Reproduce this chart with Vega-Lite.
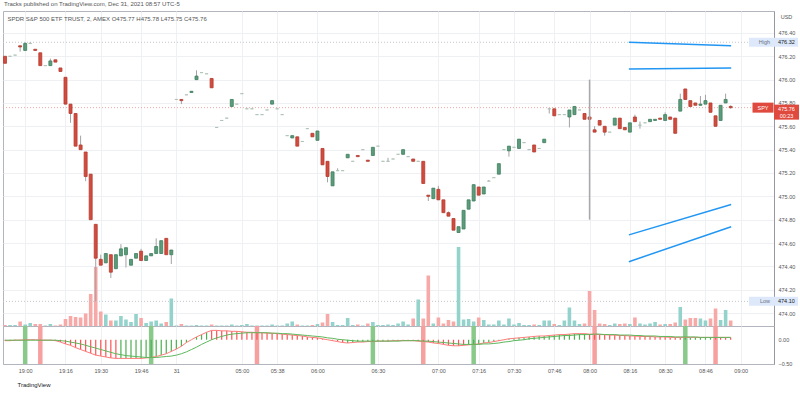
{
"$schema":"https://vega.github.io/schema/vega-lite/v6.json",
"background":"#ffffff",
"padding":{"left":2,"right":0,"top":0,"bottom":0},
"spacing":0,
"bounds":"flush",
"title":{"text":"Tracks published on TradingView.com, Dec 31, 2021 08:57 UTC-5","anchor":"start","fontSize":6,"fontWeight":"normal","color":"#555555","font":"Liberation Sans","offset":4,"dx":2},
"config":{
 "view":{"stroke":"#b2b5be"},
 "axis":{"labelFont":"Liberation Sans","labelFontSize":5.5,"labelColor":"#555555","gridColor":"#eef0f4","domainColor":"#9598a1","ticks":false,"titleFont":"Liberation Sans"},
 "text":{"font":"Liberation Sans"}
},
"datasets":{
"bars":[
{"i":0,"o":476.20,"h":476.20,"l":476.14,"c":476.14,"v":2,"m":-0.02,"s":-0.01,"trend":"dn"},
{"i":1,"o":476.20,"h":476.20,"l":476.20,"c":476.20,"v":2,"m":-0.02,"s":-0.01,"trend":"dn"},
{"i":2,"o":476.21,"h":476.21,"l":476.21,"c":476.21,"v":2,"m":-0.01,"s":-0.01,"trend":"dn"},
{"i":3,"o":476.29,"h":476.29,"l":476.24,"c":476.28,"v":9,"m":-0.01,"s":-0.01,"trend":"dn"},
{"i":4,"o":476.25,"h":476.32,"l":476.25,"c":476.31,"v":3,"m":0.0,"s":-0.01,"trend":"up"},
{"i":5,"o":476.31,"h":476.32,"l":476.31,"c":476.31,"v":6,"m":0.0,"s":-0.01,"trend":"up"},
{"i":6,"o":476.26,"h":476.26,"l":476.25,"c":476.25,"v":4,"m":0.0,"s":-0.01,"trend":"up"},
{"i":7,"o":476.23,"h":476.23,"l":476.12,"c":476.12,"v":4,"m":-0.01,"s":-0.01,"trend":"dn"},
{"i":8,"o":476.12,"h":476.12,"l":476.12,"c":476.12,"v":1,"m":-0.01,"s":-0.01,"trend":"dn"},
{"i":9,"o":476.12,"h":476.18,"l":476.12,"c":476.16,"v":4,"m":-0.01,"s":-0.01,"trend":"dn"},
{"i":10,"o":476.17,"h":476.17,"l":476.15,"c":476.15,"v":1,"m":-0.02,"s":-0.01,"trend":"dn"},
{"i":11,"o":476.10,"h":476.10,"l":476.07,"c":476.07,"v":3,"m":-0.05,"s":-0.02,"trend":"dn"},
{"i":12,"o":476.02,"h":476.02,"l":475.79,"c":475.79,"v":14,"m":-0.09,"s":-0.03,"trend":"dn"},
{"i":13,"o":475.79,"h":475.79,"l":475.63,"c":475.71,"v":20,"m":-0.12,"s":-0.05,"trend":"dn"},
{"i":14,"o":475.71,"h":475.71,"l":475.43,"c":475.43,"v":18,"m":-0.17,"s":-0.07,"trend":"dn"},
{"i":15,"o":475.44,"h":475.52,"l":475.40,"c":475.40,"v":17,"m":-0.21,"s":-0.09,"trend":"dn"},
{"i":16,"o":475.38,"h":475.38,"l":475.13,"c":475.17,"v":25,"m":-0.25,"s":-0.12,"trend":"dn"},
{"i":17,"o":475.19,"h":475.19,"l":474.80,"c":474.80,"v":64,"m":-0.29,"s":-0.15,"trend":"dn"},
{"i":18,"o":474.76,"h":474.76,"l":474.10,"c":474.47,"v":118,"m":-0.33,"s":-0.18,"trend":"dn"},
{"i":19,"o":474.46,"h":474.50,"l":474.41,"c":474.41,"v":29,"m":-0.35,"s":-0.21,"trend":"dn"},
{"i":20,"o":474.43,"h":474.51,"l":474.43,"c":474.51,"v":23,"m":-0.37,"s":-0.24,"trend":"dn"},
{"i":21,"o":474.50,"h":474.50,"l":474.30,"c":474.35,"v":11,"m":-0.39,"s":-0.27,"trend":"dn"},
{"i":22,"o":474.38,"h":474.50,"l":474.38,"c":474.50,"v":11,"m":-0.40,"s":-0.30,"trend":"dn"},
{"i":23,"o":474.49,"h":474.59,"l":474.49,"c":474.55,"v":20,"m":-0.40,"s":-0.32,"trend":"up"},
{"i":24,"o":474.50,"h":474.56,"l":474.39,"c":474.56,"v":13,"m":-0.40,"s":-0.34,"trend":"up"},
{"i":25,"o":474.41,"h":474.46,"l":474.41,"c":474.46,"v":8,"m":-0.40,"s":-0.35,"trend":"up"},
{"i":26,"o":474.47,"h":474.51,"l":474.47,"c":474.51,"v":24,"m":-0.40,"s":-0.36,"trend":"up"},
{"i":27,"o":474.53,"h":474.55,"l":474.45,"c":474.45,"v":16,"m":-0.40,"s":-0.37,"trend":"up"},
{"i":28,"o":474.45,"h":474.49,"l":474.45,"c":474.49,"v":6,"m":-0.39,"s":-0.38,"trend":"up"},
{"i":29,"o":474.49,"h":474.51,"l":474.49,"c":474.51,"v":9,"m":-0.38,"s":-0.38,"trend":"up"},
{"i":30,"o":474.51,"h":474.64,"l":474.51,"c":474.57,"v":11,"m":-0.36,"s":-0.38,"trend":"up"},
{"i":31,"o":474.51,"h":474.62,"l":474.51,"c":474.62,"v":5,"m":-0.33,"s":-0.37,"trend":"up"},
{"i":32,"o":474.64,"h":474.64,"l":474.50,"c":474.50,"v":8,"m":-0.30,"s":-0.36,"trend":"up"},
{"i":33,"o":474.50,"h":474.54,"l":474.42,"c":474.54,"v":55,"m":-0.25,"s":-0.35,"trend":"up"},
{"i":34,"o":475.83,"h":475.83,"l":475.83,"c":475.83,"v":1,"m":-0.20,"s":-0.33,"trend":"up"},
{"i":35,"o":475.83,"h":475.83,"l":475.79,"c":475.82,"v":4,"m":-0.14,"s":-0.30,"trend":"up"},
{"i":36,"o":475.87,"h":475.87,"l":475.87,"c":475.87,"v":1,"m":-0.06,"s":-0.26,"trend":"up"},
{"i":37,"o":475.89,"h":475.90,"l":475.89,"c":475.90,"v":1,"m":0.0,"s":-0.21,"trend":"up"},
{"i":38,"o":476.00,"h":476.08,"l":476.00,"c":476.03,"v":2,"m":0.06,"s":-0.16,"trend":"up"},
{"i":39,"o":476.06,"h":476.06,"l":476.06,"c":476.06,"v":1,"m":0.11,"s":-0.10,"trend":"up"},
{"i":40,"o":476.05,"h":476.05,"l":476.05,"c":476.05,"v":1,"m":0.16,"s":-0.05,"trend":"up"},
{"i":41,"o":476.01,"h":476.01,"l":475.93,"c":475.93,"v":3,"m":0.20,"s":0.0,"trend":"dn"},
{"i":42,"o":475.59,"h":475.59,"l":475.59,"c":475.59,"v":1,"m":0.20,"s":0.04,"trend":"dn"},
{"i":43,"o":475.65,"h":475.65,"l":475.65,"c":475.65,"v":1,"m":0.19,"s":0.07,"trend":"dn"},
{"i":44,"o":475.67,"h":475.67,"l":475.67,"c":475.67,"v":1,"m":0.19,"s":0.10,"trend":"dn"},
{"i":45,"o":475.77,"h":475.83,"l":475.77,"c":475.83,"v":3,"m":0.18,"s":0.12,"trend":"dn"},
{"i":46,"o":475.79,"h":475.79,"l":475.79,"c":475.79,"v":1,"m":0.18,"s":0.13,"trend":"dn"},
{"i":47,"o":475.88,"h":475.88,"l":475.88,"c":475.88,"v":2,"m":0.17,"s":0.14,"trend":"dn"},
{"i":48,"o":475.75,"h":475.75,"l":475.75,"c":475.75,"v":4,"m":0.16,"s":0.15,"trend":"dn"},
{"i":49,"o":475.75,"h":475.75,"l":475.75,"c":475.75,"v":1,"m":0.16,"s":0.15,"trend":"dn"},
{"i":50,"o":475.70,"h":475.70,"l":475.70,"c":475.70,"v":1,"m":0.15,"s":0.15,"trend":"dn"},
{"i":51,"o":475.70,"h":475.70,"l":475.70,"c":475.70,"v":1,"m":0.15,"s":0.15,"trend":"dn"},
{"i":52,"o":475.74,"h":475.74,"l":475.74,"c":475.74,"v":1,"m":0.14,"s":0.15,"trend":"dn"},
{"i":53,"o":475.79,"h":475.82,"l":475.79,"c":475.82,"v":3,"m":0.14,"s":0.14,"trend":"dn"},
{"i":54,"o":475.75,"h":475.75,"l":475.75,"c":475.75,"v":1,"m":0.13,"s":0.14,"trend":"dn"},
{"i":55,"o":475.70,"h":475.70,"l":475.70,"c":475.70,"v":1,"m":0.12,"s":0.13,"trend":"dn"},
{"i":56,"o":475.52,"h":475.52,"l":475.52,"c":475.52,"v":5,"m":0.11,"s":0.13,"trend":"dn"},
{"i":57,"o":475.50,"h":475.52,"l":475.50,"c":475.52,"v":9,"m":0.10,"s":0.12,"trend":"dn"},
{"i":58,"o":475.51,"h":475.51,"l":475.43,"c":475.43,"v":3,"m":0.09,"s":0.11,"trend":"dn"},
{"i":59,"o":475.47,"h":475.47,"l":475.47,"c":475.47,"v":1,"m":0.08,"s":0.10,"trend":"dn"},
{"i":60,"o":475.58,"h":475.58,"l":475.58,"c":475.58,"v":1,"m":0.06,"s":0.09,"trend":"dn"},
{"i":61,"o":475.54,"h":475.54,"l":475.51,"c":475.51,"v":2,"m":0.05,"s":0.08,"trend":"dn"},
{"i":62,"o":475.48,"h":475.56,"l":475.48,"c":475.56,"v":4,"m":0.04,"s":0.07,"trend":"dn"},
{"i":63,"o":475.41,"h":475.41,"l":475.27,"c":475.27,"v":7,"m":0.02,"s":0.06,"trend":"dn"},
{"i":64,"o":475.30,"h":475.30,"l":475.12,"c":475.17,"v":24,"m":0.0,"s":0.04,"trend":"dn"},
{"i":65,"o":475.09,"h":475.21,"l":475.09,"c":475.21,"v":8,"m":-0.02,"s":0.03,"trend":"dn"},
{"i":66,"o":475.22,"h":475.24,"l":475.22,"c":475.22,"v":2,"m":-0.04,"s":0.01,"trend":"dn"},
{"i":67,"o":475.22,"h":475.22,"l":475.22,"c":475.22,"v":2,"m":-0.06,"s":0.0,"trend":"dn"},
{"i":68,"o":475.33,"h":475.36,"l":475.33,"c":475.36,"v":16,"m":-0.07,"s":-0.01,"trend":"up"},
{"i":69,"o":475.30,"h":475.30,"l":475.30,"c":475.30,"v":2,"m":-0.06,"s":-0.02,"trend":"up"},
{"i":70,"o":475.35,"h":475.35,"l":475.34,"c":475.34,"v":3,"m":-0.05,"s":-0.03,"trend":"up"},
{"i":71,"o":475.40,"h":475.40,"l":475.40,"c":475.40,"v":1,"m":-0.05,"s":-0.03,"trend":"up"},
{"i":72,"o":475.31,"h":475.31,"l":475.30,"c":475.30,"v":5,"m":-0.04,"s":-0.03,"trend":"up"},
{"i":73,"o":475.35,"h":475.42,"l":475.35,"c":475.42,"v":8,"m":-0.04,"s":-0.03,"trend":"up"},
{"i":74,"o":475.43,"h":475.43,"l":475.43,"c":475.43,"v":2,"m":-0.03,"s":-0.03,"trend":"up"},
{"i":75,"o":475.30,"h":475.30,"l":475.30,"c":475.30,"v":2,"m":-0.03,"s":-0.03,"trend":"up"},
{"i":76,"o":475.30,"h":475.33,"l":475.30,"c":475.30,"v":3,"m":-0.03,"s":-0.03,"trend":"up"},
{"i":77,"o":475.32,"h":475.32,"l":475.32,"c":475.32,"v":2,"m":-0.02,"s":-0.03,"trend":"up"},
{"i":78,"o":475.36,"h":475.36,"l":475.36,"c":475.36,"v":5,"m":-0.02,"s":-0.03,"trend":"up"},
{"i":79,"o":475.36,"h":475.40,"l":475.36,"c":475.40,"v":9,"m":-0.02,"s":-0.02,"trend":"dn"},
{"i":80,"o":475.34,"h":475.34,"l":475.34,"c":475.34,"v":3,"m":-0.02,"s":-0.02,"trend":"dn"},
{"i":81,"o":475.32,"h":475.32,"l":475.30,"c":475.30,"v":15,"m":-0.02,"s":-0.02,"trend":"dn"},
{"i":82,"o":475.30,"h":475.30,"l":475.30,"c":475.30,"v":53,"m":-0.03,"s":-0.02,"trend":"dn"},
{"i":83,"o":475.30,"h":475.30,"l":475.11,"c":475.11,"v":15,"m":-0.04,"s":-0.03,"trend":"dn"},
{"i":84,"o":475.01,"h":475.01,"l":474.96,"c":475.00,"v":101,"m":-0.05,"s":-0.03,"trend":"dn"},
{"i":85,"o":474.98,"h":475.07,"l":474.98,"c":475.07,"v":5,"m":-0.07,"s":-0.04,"trend":"dn"},
{"i":86,"o":475.06,"h":475.09,"l":474.97,"c":474.97,"v":17,"m":-0.08,"s":-0.05,"trend":"dn"},
{"i":87,"o":474.97,"h":474.97,"l":474.86,"c":474.86,"v":5,"m":-0.10,"s":-0.06,"trend":"dn"},
{"i":88,"o":474.86,"h":474.87,"l":474.83,"c":474.83,"v":12,"m":-0.12,"s":-0.07,"trend":"dn"},
{"i":89,"o":474.81,"h":474.81,"l":474.71,"c":474.71,"v":9,"m":-0.13,"s":-0.08,"trend":"dn"},
{"i":90,"o":474.69,"h":474.74,"l":474.69,"c":474.74,"v":158,"m":-0.13,"s":-0.09,"trend":"dn"},
{"i":91,"o":474.72,"h":474.88,"l":474.72,"c":474.88,"v":13,"m":-0.12,"s":-0.10,"trend":"dn"},
{"i":92,"o":474.89,"h":474.97,"l":474.89,"c":474.97,"v":14,"m":-0.11,"s":-0.10,"trend":"up"},
{"i":93,"o":474.96,"h":475.10,"l":474.96,"c":475.10,"v":9,"m":-0.10,"s":-0.10,"trend":"up"},
{"i":94,"o":475.08,"h":475.08,"l":475.01,"c":475.01,"v":17,"m":-0.09,"s":-0.10,"trend":"up"},
{"i":95,"o":475.02,"h":475.08,"l":475.02,"c":475.08,"v":12,"m":-0.07,"s":-0.09,"trend":"up"},
{"i":96,"o":475.13,"h":475.14,"l":475.13,"c":475.13,"v":3,"m":-0.06,"s":-0.09,"trend":"up"},
{"i":97,"o":475.16,"h":475.16,"l":475.16,"c":475.16,"v":3,"m":-0.04,"s":-0.08,"trend":"up"},
{"i":98,"o":475.19,"h":475.28,"l":475.19,"c":475.28,"v":11,"m":-0.02,"s":-0.07,"trend":"up"},
{"i":99,"o":475.40,"h":475.40,"l":475.40,"c":475.40,"v":3,"m":0.0,"s":-0.05,"trend":"up"},
{"i":100,"o":475.39,"h":475.43,"l":475.34,"c":475.43,"v":15,"m":0.02,"s":-0.04,"trend":"up"},
{"i":101,"o":475.42,"h":475.42,"l":475.42,"c":475.42,"v":3,"m":0.03,"s":-0.02,"trend":"up"},
{"i":102,"o":475.41,"h":475.49,"l":475.41,"c":475.49,"v":6,"m":0.04,"s":-0.01,"trend":"up"},
{"i":103,"o":475.46,"h":475.46,"l":475.46,"c":475.46,"v":2,"m":0.05,"s":0.0,"trend":"up"},
{"i":104,"o":475.40,"h":475.40,"l":475.40,"c":475.40,"v":2,"m":0.06,"s":0.02,"trend":"up"},
{"i":105,"o":475.44,"h":475.44,"l":475.38,"c":475.38,"v":3,"m":0.07,"s":0.03,"trend":"up"},
{"i":106,"o":475.41,"h":475.41,"l":475.41,"c":475.41,"v":2,"m":0.08,"s":0.04,"trend":"up"},
{"i":107,"o":475.46,"h":475.49,"l":475.46,"c":475.49,"v":11,"m":0.08,"s":0.05,"trend":"up"},
{"i":108,"o":475.75,"h":475.75,"l":475.71,"c":475.75,"v":11,"m":0.09,"s":0.06,"trend":"up"},
{"i":109,"o":475.75,"h":475.75,"l":475.69,"c":475.69,"v":4,"m":0.10,"s":0.07,"trend":"up"},
{"i":110,"o":475.70,"h":475.70,"l":475.70,"c":475.70,"v":2,"m":0.11,"s":0.08,"trend":"up"},
{"i":111,"o":475.70,"h":475.70,"l":475.70,"c":475.70,"v":11,"m":0.11,"s":0.09,"trend":"up"},
{"i":112,"o":475.68,"h":475.74,"l":475.59,"c":475.74,"v":37,"m":0.12,"s":0.09,"trend":"up"},
{"i":113,"o":475.70,"h":475.77,"l":475.70,"c":475.77,"v":11,"m":0.13,"s":0.10,"trend":"up"},
{"i":114,"o":475.74,"h":475.74,"l":475.74,"c":475.74,"v":4,"m":0.13,"s":0.11,"trend":"up"},
{"i":115,"o":475.71,"h":475.71,"l":475.66,"c":475.66,"v":5,"m":0.13,"s":0.11,"trend":"up"},
{"i":116,"o":475.68,"h":475.68,"l":475.66,"c":475.66,"v":70,"m":0.12,"s":0.11,"trend":"dn"},
{"i":117,"o":475.57,"h":475.60,"l":475.55,"c":475.55,"v":32,"m":0.12,"s":0.12,"trend":"dn"},
{"i":118,"o":475.65,"h":475.65,"l":475.61,"c":475.61,"v":5,"m":0.11,"s":0.12,"trend":"dn"},
{"i":119,"o":475.60,"h":475.60,"l":475.52,"c":475.55,"v":4,"m":0.11,"s":0.11,"trend":"dn"},
{"i":120,"o":475.55,"h":475.55,"l":475.55,"c":475.55,"v":2,"m":0.10,"s":0.11,"trend":"dn"},
{"i":121,"o":475.61,"h":475.67,"l":475.61,"c":475.67,"v":5,"m":0.10,"s":0.11,"trend":"dn"},
{"i":122,"o":475.67,"h":475.67,"l":475.58,"c":475.58,"v":4,"m":0.09,"s":0.10,"trend":"dn"},
{"i":123,"o":475.59,"h":475.59,"l":475.57,"c":475.57,"v":5,"m":0.09,"s":0.10,"trend":"dn"},
{"i":124,"o":475.55,"h":475.63,"l":475.55,"c":475.63,"v":4,"m":0.08,"s":0.10,"trend":"dn"},
{"i":125,"o":475.68,"h":475.70,"l":475.64,"c":475.64,"v":17,"m":0.08,"s":0.09,"trend":"dn"},
{"i":126,"o":475.61,"h":475.64,"l":475.58,"c":475.61,"v":5,"m":0.07,"s":0.09,"trend":"dn"},
{"i":127,"o":475.63,"h":475.63,"l":475.63,"c":475.63,"v":3,"m":0.07,"s":0.08,"trend":"dn"},
{"i":128,"o":475.64,"h":475.66,"l":475.64,"c":475.66,"v":5,"m":0.07,"s":0.08,"trend":"dn"},
{"i":129,"o":475.65,"h":475.66,"l":475.65,"c":475.66,"v":8,"m":0.06,"s":0.08,"trend":"dn"},
{"i":130,"o":475.67,"h":475.67,"l":475.66,"c":475.66,"v":3,"m":0.06,"s":0.07,"trend":"dn"},
{"i":131,"o":475.65,"h":475.72,"l":475.65,"c":475.70,"v":4,"m":0.06,"s":0.07,"trend":"dn"},
{"i":132,"o":475.68,"h":475.68,"l":475.66,"c":475.66,"v":4,"m":0.05,"s":0.07,"trend":"dn"},
{"i":133,"o":475.67,"h":475.67,"l":475.54,"c":475.54,"v":7,"m":0.05,"s":0.06,"trend":"dn"},
{"i":134,"o":475.73,"h":475.88,"l":475.73,"c":475.83,"v":38,"m":0.05,"s":0.06,"trend":"dn"},
{"i":135,"o":475.92,"h":475.92,"l":475.83,"c":475.83,"v":13,"m":0.05,"s":0.06,"trend":"up"},
{"i":136,"o":475.82,"h":475.82,"l":475.77,"c":475.77,"v":16,"m":0.05,"s":0.06,"trend":"up"},
{"i":137,"o":475.80,"h":475.80,"l":475.78,"c":475.78,"v":16,"m":0.05,"s":0.06,"trend":"up"},
{"i":138,"o":475.78,"h":475.86,"l":475.78,"c":475.79,"v":15,"m":0.05,"s":0.05,"trend":"up"},
{"i":139,"o":475.79,"h":475.87,"l":475.79,"c":475.82,"v":11,"m":0.05,"s":0.05,"trend":"up"},
{"i":140,"o":475.80,"h":475.80,"l":475.72,"c":475.72,"v":15,"m":0.05,"s":0.05,"trend":"up"},
{"i":141,"o":475.69,"h":475.69,"l":475.60,"c":475.60,"v":35,"m":0.05,"s":0.05,"trend":"dn"},
{"i":142,"o":475.65,"h":475.78,"l":475.65,"c":475.78,"v":12,"m":0.05,"s":0.05,"trend":"dn"},
{"i":143,"o":475.80,"h":475.88,"l":475.80,"c":475.83,"v":32,"m":0.05,"s":0.05,"trend":"dn"},
{"i":144,"o":475.77,"h":475.78,"l":475.75,"c":475.76,"v":11,"m":0.05,"s":0.05,"trend":"dn"}
],
"signals":[{"i":4,"kind":"buy"},{"i":7,"kind":"sell"},{"i":29,"kind":"buy"},{"i":50,"kind":"sell"},{"i":73,"kind":"buy"},{"i":83,"kind":"sell"},{"i":93,"kind":"buy"},{"i":117,"kind":"sell"},{"i":135,"kind":"buy"},{"i":141,"kind":"sell"}],
"drawings":[
{"id":"a","i":123.8,"p":476.32},{"id":"a","i":144.1,"p":476.29},
{"id":"b","i":123.8,"p":476.09},{"id":"b","i":144.1,"p":476.10},
{"id":"c","i":123.8,"p":474.67},{"id":"c","i":144.1,"p":474.93},
{"id":"d","i":123.8,"p":474.44},{"id":"d","i":144.1,"p":474.74}
],
"vline":[{"i":116,"from":476.00,"to":474.80}],
"levels":[{"price":476.32,"kind":"high"},{"price":474.10,"kind":"low"},{"price":475.76,"kind":"last"}],
"tags":[{"name":"High","price":476.32,"label":"476.32"},{"name":"Low","price":474.10,"label":"474.10"}],
"last":[{"name":"SPY","price":475.76,"label":"475.76","countdown":"00:23"}]
},
"vconcat":[
{
 "width":771,"height":315,
 "title":{"text":"SPDR S&P 500 ETF TRUST, 2, AMEX  O475.77  H475.78  L475.75  C475.76","anchor":"start","fontSize":6,"fontWeight":"normal","color":"#555555","font":"Liberation Sans","offset":-11,"dx":5},
 "encoding":{"x":{"field":"i","type":"quantitative","title":null,"scale":{"domain":[-0.4,152.6],"nice":false,"zero":false,"padding":0},
   "axis":{"values":[4,12,19,27,34,47,54,62,74,86,94,101,109,116,124,131,139,146],"tickCount":40,"labels":false,"domain":false,"ticks":false,"grid":true,"labelPadding":0,"minExtent":0,"maxExtent":0,"offset":0}}},
 "layer":[
  {"data":{"name":"bars"},"mark":{"type":"bar","width":3.6,"orient":"vertical"},
   "encoding":{"y":{"field":"v","type":"quantitative","scale":{"domain":[0,630],"nice":false},"axis":null},
    "color":{"condition":{"test":"datum.c>=datum.o","value":"#93d3cc"},"value":"#f7a9a7"}}},
  {"layer":[
   {"data":{"name":"levels"},"mark":{"type":"rule","strokeDash":[1,2],"strokeWidth":1},
    "encoding":{"x":{"value":0},"x2":{"value":"width"},
     "y":{"field":"price","type":"quantitative","scale":{"domain":[473.889,476.588],"nice":false,"zero":false},
      "axis":{"orient":"right","values":[474,474.2,474.4,474.6,474.8,475,475.2,475.4,475.6,475.8,476,476.2,476.4],"tickCount":40,"format":".2f","grid":true,"labelPadding":4,"labelOverlap":false,"labelBound":false,
       "title":"USD","titleAngle":0,"titleX":12,"titleY":5.5,"titleAlign":"center","titleBaseline":"middle","titleFontSize":5.5,"titleFontWeight":"normal","titleColor":"#555555"}},
     "color":{"condition":{"test":"datum.kind==='last'","value":"#f4a6a3"},"value":"#c3c6ce"}}},
   {"data":{"name":"bars"},"mark":{"type":"rule","color":"#a3a3a3","strokeWidth":1},
    "encoding":{"y":{"field":"l","type":"quantitative","scale":{"domain":[473.889,476.588],"nice":false,"zero":false}},"y2":{"field":"h"}}},
   {"data":{"name":"bars"},"mark":{"type":"bar","width":3,"strokeWidth":0.8,"orient":"vertical"},
    "encoding":{"y":{"field":"o","type":"quantitative","scale":{"domain":[473.889,476.588],"nice":false,"zero":false}},"y2":{"field":"c"},
     "fill":{"condition":[{"test":"datum.c>datum.o","value":"#5b9c7b"},{"test":"datum.c<datum.o","value":"#d34b3d"}],"value":"#a9bfb3"},
     "stroke":{"condition":[{"test":"datum.c>datum.o","value":"#3f7f5e"},{"test":"datum.c<datum.o","value":"#b23c31"}],"value":"#a9bfb3"}}},
   {"data":{"name":"drawings"},"mark":{"type":"line","color":"#2196f3","strokeWidth":1.5},
    "encoding":{"y":{"field":"p","type":"quantitative","scale":{"domain":[473.889,476.588],"nice":false,"zero":false}},"detail":{"field":"id"}}},
   {"data":{"name":"vline"},"mark":{"type":"rule","color":"#a8a8a8","strokeWidth":1.5},
    "encoding":{"y":{"field":"from","type":"quantitative","scale":{"domain":[473.889,476.588],"nice":false,"zero":false}},"y2":{"field":"to"}}},
   {"data":{"name":"tags"},"mark":{"type":"point","shape":"M-2.45,-0.45H2.45V0.45H-2.45Z","size":400,"filled":true,"opacity":1,"strokeWidth":0,"color":"#dde9fb","xOffset":-0.5},
    "encoding":{"x":{"value":"width"},"y":{"field":"price","type":"quantitative","scale":{"domain":[473.889,476.588],"nice":false,"zero":false}}}},
   {"data":{"name":"tags"},"mark":{"type":"text","align":"right","baseline":"middle","fontSize":5.5,"color":"#6a7383","xOffset":-4},
    "encoding":{"x":{"value":"width"},"y":{"field":"price","type":"quantitative","scale":{"domain":[473.889,476.588],"nice":false,"zero":false}},"text":{"field":"name"}}},
   {"data":{"name":"tags"},"mark":{"type":"text","align":"left","baseline":"middle","fontSize":5.5,"color":"#131722","xOffset":4},
    "encoding":{"x":{"value":"width"},"y":{"field":"price","type":"quantitative","scale":{"domain":[473.889,476.588],"nice":false,"zero":false}},"text":{"field":"label"}}},
   {"data":{"name":"last"},"mark":{"type":"point","shape":"M-1.05,-0.5H1.05V0.5H-1.05Z","size":400,"filled":true,"opacity":1,"strokeWidth":0,"color":"#e0493d","xOffset":-11},
    "encoding":{"x":{"value":"width"},"y":{"field":"price","type":"quantitative","scale":{"domain":[473.889,476.588],"nice":false,"zero":false}}}},
   {"data":{"name":"last"},"mark":{"type":"point","shape":"M-1.25,-0.75H1.25V0.75H-1.25Z","size":400,"filled":true,"opacity":1,"strokeWidth":0,"color":"#e0493d","xOffset":12.5,"yOffset":4.5},
    "encoding":{"x":{"value":"width"},"y":{"field":"price","type":"quantitative","scale":{"domain":[473.889,476.588],"nice":false,"zero":false}}}},
   {"data":{"name":"last"},"mark":{"type":"text","align":"center","baseline":"middle","fontSize":5.5,"color":"#ffffff","xOffset":-11},
    "encoding":{"x":{"value":"width"},"y":{"field":"price","type":"quantitative","scale":{"domain":[473.889,476.588],"nice":false,"zero":false}},"text":{"field":"name"}}},
   {"data":{"name":"last"},"mark":{"type":"text","align":"center","baseline":"middle","fontSize":5.5,"color":"#ffffff","xOffset":12.5,"yOffset":1.5},
    "encoding":{"x":{"value":"width"},"y":{"field":"price","type":"quantitative","scale":{"domain":[473.889,476.588],"nice":false,"zero":false}},"text":{"field":"label"}}},
   {"data":{"name":"last"},"mark":{"type":"text","align":"center","baseline":"middle","fontSize":5.5,"color":"#ffffff","xOffset":12.5,"yOffset":8},
    "encoding":{"x":{"value":"width"},"y":{"field":"price","type":"quantitative","scale":{"domain":[473.889,476.588],"nice":false,"zero":false}},"text":{"field":"countdown"}}}
  ]}
 ],
 "resolve":{"scale":{"y":"independent"},"axis":{"y":"independent"}}
},
{
 "width":771,"height":38,
 "encoding":{"x":{"field":"i","type":"quantitative","title":"TradingView","scale":{"domain":[-0.4,152.6],"nice":false,"zero":false,"padding":0},
   "axis":{"values":[4,12,19,27,34,47,54,62,74,86,94,101,109,116,124,131,139,146],"tickCount":40,
    "labelExpr":"['19:00','19:16','19:30','19:46','31','05:00','05:38','06:00','06:30','07:00','07:16','07:30','07:46','08:00','08:16','08:30','08:46','09:00'][indexof([4,12,19,27,34,47,54,62,74,86,94,101,109,116,124,131,139,146], datum.value)]",
    "labelOverlap":false,"labelFlush":false,"labelPadding":4,"grid":true,"domain":true,"domainColor":"#b2b5be","ticks":false,
    "titleX":14,"titleY":20,"titleAlign":"left","titleBaseline":"middle","titleFontSize":6,"titleFontWeight":"normal","titleColor":"#131722"}}},
 "layer":[
  {"data":{"name":"signals"},"mark":{"type":"rule","strokeWidth":4.5},
   "encoding":{"color":{"condition":{"test":"datum.kind==='buy'","value":"#89c98a"},"value":"#f7a0a0"}}},
  {"data":{"name":"bars"},"mark":{"type":"bar","width":1.2,"orient":"vertical"},
   "encoding":{"y":{"field":"m","type":"quantitative","scale":{"domain":[-0.52,0.294],"nice":false,"zero":false},
     "axis":{"orient":"right","values":[0,-0.5],"tickCount":10,"format":".2f","grid":false,"title":null,"labelPadding":4,"labelOverlap":false,"labelBound":false}},
    "y2":{"datum":0},
    "color":{"condition":{"test":"datum.trend==='up'","value":"#4caf50"},"value":"#ff5252"}}},
  {"data":{"name":"bars"},"mark":{"type":"line","color":"#ff7b7b","strokeWidth":1},
   "encoding":{"y":{"field":"m","type":"quantitative","scale":{"domain":[-0.52,0.294],"nice":false,"zero":false}}}},
  {"data":{"name":"bars"},"mark":{"type":"line","color":"#5cb85c","strokeWidth":1},
   "encoding":{"y":{"field":"s","type":"quantitative","scale":{"domain":[-0.52,0.294],"nice":false,"zero":false}}}}
 ]
}
]
}
